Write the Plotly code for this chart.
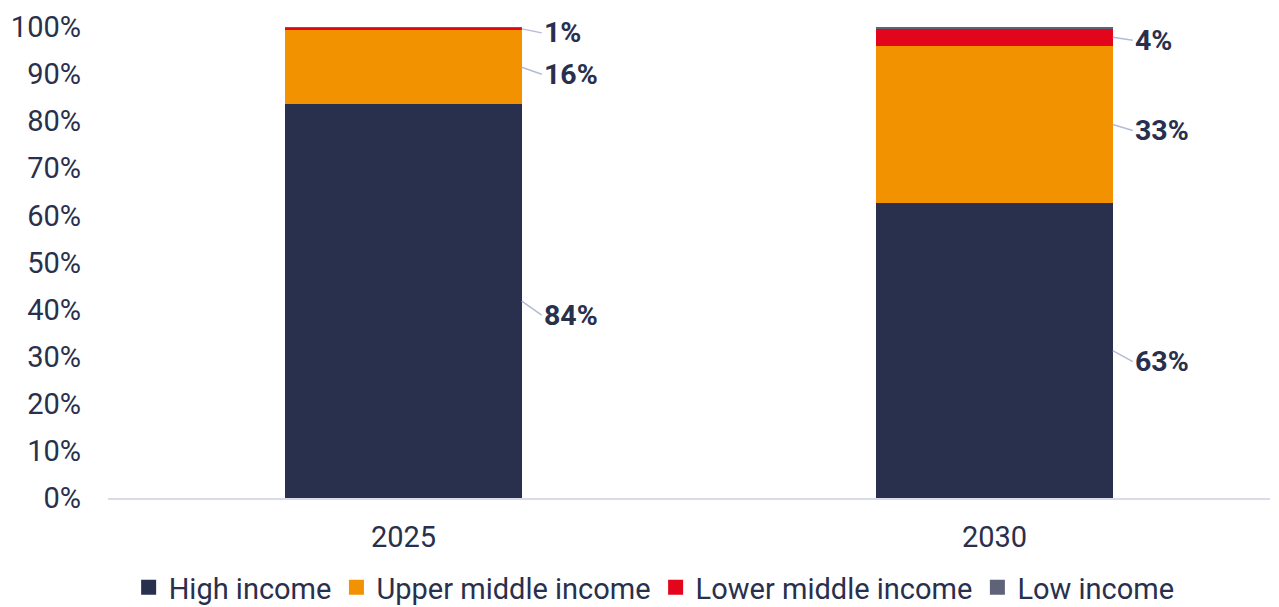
import plotly.graph_objects as go

years = ["2025", "2030"]
series_names = ["High income", "Upper middle income", "Lower middle income", "Low income"]
high_income = [83.6, 62.6]
upper_middle = [15.7, 33.4]
lower_middle = [0.6, 3.6]
low_income = [0.1, 0.4]
colors = ["#29304d", "#f39200", "#e3051b", "#5f6378"]

series_values = [high_income, upper_middle, lower_middle, low_income]
# label pixel offsets (styling)
label_dy = {(0, 0): 14, (0, 1): 7, (0, 2): 4, (1, 0): 11, (1, 1): 6, (1, 2): 3}

FONT = "Roboto"
TXT = "#29304d"
BAR_W = 0.4

fig = go.Figure()
for name, vals, col in zip(series_names, series_values, colors):
    fig.add_trace(go.Bar(
        x=list(range(len(years))), y=vals, name=name, marker_color=col,
        marker_line_width=0, width=BAR_W, hoverinfo="skip", showlegend=False))
# legend entries with larger square swatches
for name, col in zip(series_names, colors):
    fig.add_trace(go.Scatter(
        x=[None], y=[None], mode="markers", name=name,
        marker=dict(symbol="square", size=15, color=col), hoverinfo="skip"))

for ci in range(len(years)):
    cum = 0
    for si, vals in enumerate(series_values):
        v = vals[ci]
        mid = cum + v / 2
        cum += v
        r = round(v)
        if r == 0:
            continue
        fig.add_annotation(
            x=ci + BAR_W / 2, y=mid, xref="x", yref="y",
            text=f"<b>{r}%</b>", showarrow=True, arrowhead=0, arrowwidth=1.5,
            arrowcolor="#b3bbd6", ax=20, ay=label_dy.get((ci, si), 0),
            xanchor="left", yanchor="middle", standoff=0, startstandoff=0,
            font=dict(family=FONT, size=28.5, color=TXT))

fig.update_layout(
    width=1271, height=599,
    margin=dict(l=100, r=9, t=19, b=109, autoexpand=False),
    paper_bgcolor="white", plot_bgcolor="white",
    font=dict(family=FONT, size=29, color=TXT),
    barmode="stack", bargap=0,
    legend=dict(orientation="h", x=0.47, xanchor="center", y=-0.19, yanchor="middle",
                font=dict(family=FONT, size=29, color=TXT), traceorder="normal",
                itemsizing="trace"),
    showlegend=True,
)
fig.update_xaxes(
    tickvals=list(range(len(years))), ticktext=years, range=[-0.5, 1.466],
    showline=True, linecolor="#d9dce8", linewidth=2, showgrid=False,
    ticks="", ticklabelstandoff=12, tickfont=dict(size=29, color=TXT), zeroline=False)
fig.update_yaxes(
    range=[0, 100], tickvals=list(range(0, 101, 10)),
    ticktext=[f"{v}%" for v in range(0, 101, 10)],
    showgrid=False, zeroline=False, showline=False, ticks="",
    ticklabelstandoff=26, tickfont=dict(size=29, color=TXT))

fig.write_html("out.html")
